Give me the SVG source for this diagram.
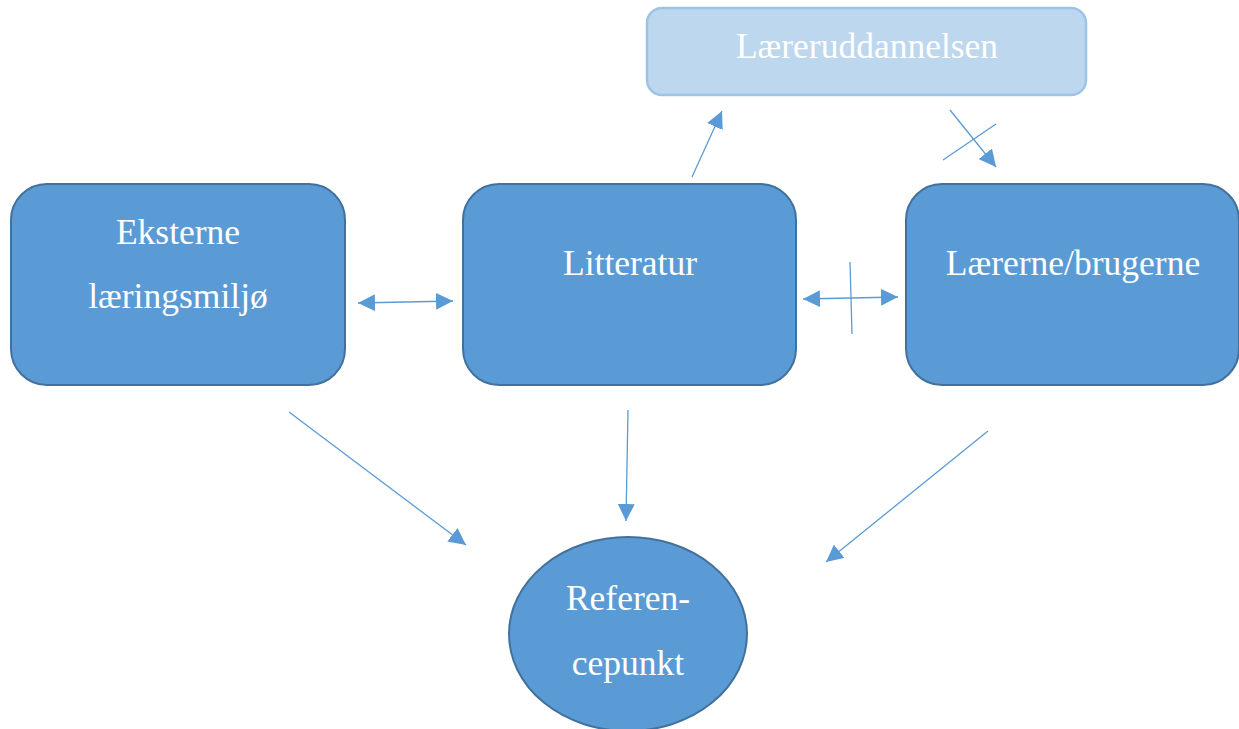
<svg xmlns="http://www.w3.org/2000/svg" width="1239" height="729" viewBox="0 0 1239 729">
<style>
.box{fill:#5b9bd5;stroke:#41719c;stroke-width:2}
.light{fill:#bdd7ee;stroke:#9dc3e6;stroke-width:2.5}
.t{font-family:"Liberation Serif","Times New Roman",serif;font-size:35.5px;fill:#ffffff;text-anchor:middle}
.c{stroke:#5b9bd5;stroke-width:1.3;fill:none}
</style>
<defs>
<marker id="ah" viewBox="0 0 10 10" refX="10" refY="5" markerWidth="17" markerHeight="17" markerUnits="userSpaceOnUse" orient="auto-start-reverse">
<path d="M0,0 L10,5 L0,10 Z" fill="#5b9bd5"/>
</marker>
</defs>
<rect width="1239" height="729" fill="#ffffff"/>
<g id="laereruddannelsen">
<rect class="light" x="647" y="8" width="439" height="87" rx="15"/>
<text class="t" x="867" y="58">Læreruddannelsen</text>
</g>
<g id="eksterne">
<rect class="box" x="11" y="184" width="334" height="201" rx="36"/>
<text class="t" x="178" y="244">Eksterne</text>
<text class="t" x="178" y="308">læringsmiljø</text>
</g>
<g id="litteratur">
<rect class="box" x="463" y="184" width="333" height="201" rx="36"/>
<text class="t" x="630" y="275">Litteratur</text>
</g>
<g id="laererne">
<rect class="box" x="906" y="184" width="333" height="201" rx="36"/>
<text class="t" x="1073" y="275">Lærerne/brugerne</text>
</g>
<g id="referencepunkt">
<ellipse class="box" cx="628" cy="634" rx="119" ry="97"/>
<text class="t" x="628" y="610">Referen-</text>
<text class="t" x="628" y="675">cepunkt</text>
</g>
<g id="connectors">
<line class="c" x1="358" y1="303" x2="453" y2="301" marker-start="url(#ah)" marker-end="url(#ah)"/>
<line class="c" x1="803" y1="299" x2="898" y2="297" marker-start="url(#ah)" marker-end="url(#ah)"/>
<line class="c" x1="850" y1="262" x2="852" y2="334"/>
<line class="c" x1="692" y1="177" x2="722" y2="111" marker-end="url(#ah)"/>
<line class="c" x1="950" y1="110" x2="996" y2="167" marker-end="url(#ah)"/>
<line class="c" x1="943" y1="160" x2="996" y2="124"/>
<line class="c" x1="289" y1="412" x2="466" y2="545" marker-end="url(#ah)"/>
<line class="c" x1="628" y1="410" x2="626" y2="521" marker-end="url(#ah)"/>
<line class="c" x1="988" y1="431" x2="826" y2="562" marker-end="url(#ah)"/>
</g>
</svg>
